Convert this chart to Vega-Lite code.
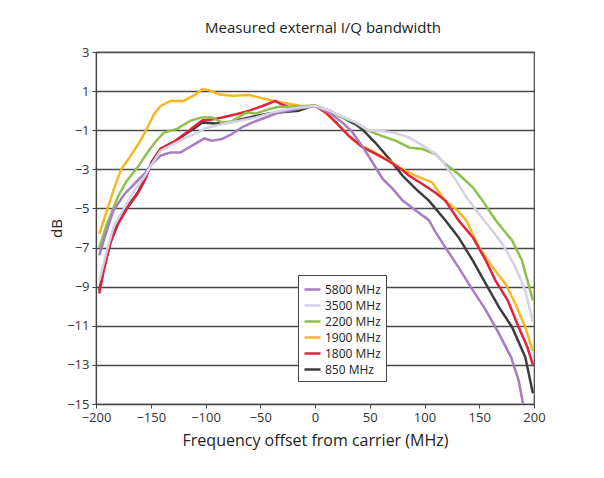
{
  "$schema": "https://vega.github.io/schema/vega-lite/v6.json",
  "autosize": {"type": "none"},
  "width": 438,
  "height": 352,
  "padding": {"left": 96, "top": 52, "right": 70, "bottom": 74},
  "background": "white",
  "config": {
    "font": "Open Sans",
    "view": {"stroke": "#444444", "strokeWidth": 1.2},
    "axis": {"labelFont": "Open Sans", "titleFont": "Open Sans", "labelColor": "#333333", "titleColor": "#222222", "titleFontWeight": "normal", "labelFlush": false}
  },
  "title": {"text": "Measured  external  I/Q  bandwidth", "fontSize": 15, "fontWeight": "normal", "font": "Open Sans", "color": "#222222", "offset": 10, "dx": 8},
  "datasets": {
    "curves": [
      {"s": "1900 MHz", "x": -197, "y": -6.3}, {"s": "1900 MHz", "x": -190, "y": -5.1}, {"s": "1900 MHz", "x": -183, "y": -3.9}, {"s": "1900 MHz", "x": -177, "y": -3.0}, {"s": "1900 MHz", "x": -170, "y": -2.45}, {"s": "1900 MHz", "x": -160, "y": -1.6}, {"s": "1900 MHz", "x": -153, "y": -0.86}, {"s": "1900 MHz", "x": -147, "y": -0.18}, {"s": "1900 MHz", "x": -141, "y": 0.24}, {"s": "1900 MHz", "x": -132, "y": 0.5}, {"s": "1900 MHz", "x": -120, "y": 0.5}, {"s": "1900 MHz", "x": -110, "y": 0.8}, {"s": "1900 MHz", "x": -103, "y": 1.1}, {"s": "1900 MHz", "x": -97, "y": 1.05}, {"s": "1900 MHz", "x": -88, "y": 0.84}, {"s": "1900 MHz", "x": -76, "y": 0.76}, {"s": "1900 MHz", "x": -60, "y": 0.8}, {"s": "1900 MHz", "x": -45, "y": 0.59}, {"s": "1900 MHz", "x": -36, "y": 0.47}, {"s": "1900 MHz", "x": -24, "y": 0.36}, {"s": "1900 MHz", "x": -12, "y": 0.24}, {"s": "1900 MHz", "x": 0, "y": 0.25}, {"s": "1900 MHz", "x": 7, "y": 0.0}, {"s": "1900 MHz", "x": 19, "y": -0.6}, {"s": "1900 MHz", "x": 31, "y": -1.29}, {"s": "1900 MHz", "x": 43, "y": -1.8}, {"s": "1900 MHz", "x": 55, "y": -2.14}, {"s": "1900 MHz", "x": 68, "y": -2.56}, {"s": "1900 MHz", "x": 80, "y": -3.0}, {"s": "1900 MHz", "x": 92, "y": -3.33}, {"s": "1900 MHz", "x": 107, "y": -3.67}, {"s": "1900 MHz", "x": 119, "y": -4.6}, {"s": "1900 MHz", "x": 130, "y": -5.1}, {"s": "1900 MHz", "x": 138, "y": -5.6}, {"s": "1900 MHz", "x": 150, "y": -7.0}, {"s": "1900 MHz", "x": 162, "y": -8.0}, {"s": "1900 MHz", "x": 174, "y": -8.86}, {"s": "1900 MHz", "x": 183, "y": -9.88}, {"s": "1900 MHz", "x": 192, "y": -11.07}, {"s": "1900 MHz", "x": 199, "y": -12.3},

      {"s": "1800 MHz", "x": -197, "y": -9.35}, {"s": "1800 MHz", "x": -193, "y": -8.2}, {"s": "1800 MHz", "x": -187, "y": -6.8}, {"s": "1800 MHz", "x": -180, "y": -5.8}, {"s": "1800 MHz", "x": -171, "y": -4.94}, {"s": "1800 MHz", "x": -162, "y": -4.25}, {"s": "1800 MHz", "x": -155, "y": -3.5}, {"s": "1800 MHz", "x": -149, "y": -2.65}, {"s": "1800 MHz", "x": -141, "y": -1.96}, {"s": "1800 MHz", "x": -129, "y": -1.6}, {"s": "1800 MHz", "x": -117, "y": -1.1}, {"s": "1800 MHz", "x": -110, "y": -0.8}, {"s": "1800 MHz", "x": -103, "y": -0.5}, {"s": "1800 MHz", "x": -94, "y": -0.45}, {"s": "1800 MHz", "x": -85, "y": -0.35}, {"s": "1800 MHz", "x": -72, "y": -0.18}, {"s": "1800 MHz", "x": -60, "y": 0.0}, {"s": "1800 MHz", "x": -48, "y": 0.24}, {"s": "1800 MHz", "x": -36, "y": 0.5}, {"s": "1800 MHz", "x": -31, "y": 0.33}, {"s": "1800 MHz", "x": -24, "y": 0.19}, {"s": "1800 MHz", "x": -12, "y": 0.2}, {"s": "1800 MHz", "x": 0, "y": 0.25}, {"s": "1800 MHz", "x": 10, "y": -0.1}, {"s": "1800 MHz", "x": 20, "y": -0.65}, {"s": "1800 MHz", "x": 31, "y": -1.3}, {"s": "1800 MHz", "x": 43, "y": -1.85}, {"s": "1800 MHz", "x": 55, "y": -2.2}, {"s": "1800 MHz", "x": 68, "y": -2.6}, {"s": "1800 MHz", "x": 80, "y": -3.05}, {"s": "1800 MHz", "x": 86, "y": -3.33}, {"s": "1800 MHz", "x": 98, "y": -3.75}, {"s": "1800 MHz", "x": 110, "y": -4.2}, {"s": "1800 MHz", "x": 119, "y": -4.6}, {"s": "1800 MHz", "x": 131, "y": -5.6}, {"s": "1800 MHz", "x": 144, "y": -6.47}, {"s": "1800 MHz", "x": 156, "y": -7.66}, {"s": "1800 MHz", "x": 165, "y": -8.7}, {"s": "1800 MHz", "x": 176, "y": -9.7}, {"s": "1800 MHz", "x": 186, "y": -11.07}, {"s": "1800 MHz", "x": 194, "y": -12.1}, {"s": "1800 MHz", "x": 199, "y": -13.0},

      {"s": "2200 MHz", "x": -197, "y": -7.0}, {"s": "2200 MHz", "x": -190, "y": -5.8}, {"s": "2200 MHz", "x": -180, "y": -4.4}, {"s": "2200 MHz", "x": -172, "y": -3.6}, {"s": "2200 MHz", "x": -162, "y": -2.9}, {"s": "2200 MHz", "x": -153, "y": -2.14}, {"s": "2200 MHz", "x": -145, "y": -1.54}, {"s": "2200 MHz", "x": -138, "y": -1.12}, {"s": "2200 MHz", "x": -126, "y": -0.93}, {"s": "2200 MHz", "x": -114, "y": -0.52}, {"s": "2200 MHz", "x": -104, "y": -0.35}, {"s": "2200 MHz", "x": -94, "y": -0.35}, {"s": "2200 MHz", "x": -85, "y": -0.6}, {"s": "2200 MHz", "x": -76, "y": -0.55}, {"s": "2200 MHz", "x": -63, "y": -0.1}, {"s": "2200 MHz", "x": -54, "y": -0.15}, {"s": "2200 MHz", "x": -42, "y": 0.08}, {"s": "2200 MHz", "x": -33, "y": 0.2}, {"s": "2200 MHz", "x": -24, "y": 0.19}, {"s": "2200 MHz", "x": -12, "y": 0.22}, {"s": "2200 MHz", "x": 0, "y": 0.25}, {"s": "2200 MHz", "x": 13, "y": 0.0}, {"s": "2200 MHz", "x": 25, "y": -0.35}, {"s": "2200 MHz", "x": 37, "y": -0.6}, {"s": "2200 MHz", "x": 49, "y": -1.03}, {"s": "2200 MHz", "x": 61, "y": -1.29}, {"s": "2200 MHz", "x": 74, "y": -1.54}, {"s": "2200 MHz", "x": 86, "y": -1.88}, {"s": "2200 MHz", "x": 98, "y": -1.96}, {"s": "2200 MHz", "x": 110, "y": -2.22}, {"s": "2200 MHz", "x": 119, "y": -2.73}, {"s": "2200 MHz", "x": 131, "y": -3.24}, {"s": "2200 MHz", "x": 144, "y": -3.92}, {"s": "2200 MHz", "x": 153, "y": -4.6}, {"s": "2200 MHz", "x": 165, "y": -5.6}, {"s": "2200 MHz", "x": 180, "y": -6.64}, {"s": "2200 MHz", "x": 189, "y": -7.66}, {"s": "2200 MHz", "x": 199, "y": -9.7},

      {"s": "850 MHz", "x": -197, "y": -9.2}, {"s": "850 MHz", "x": -193, "y": -8.1}, {"s": "850 MHz", "x": -187, "y": -6.75}, {"s": "850 MHz", "x": -180, "y": -5.75}, {"s": "850 MHz", "x": -171, "y": -4.9}, {"s": "850 MHz", "x": -162, "y": -4.2}, {"s": "850 MHz", "x": -155, "y": -3.45}, {"s": "850 MHz", "x": -149, "y": -2.6}, {"s": "850 MHz", "x": -141, "y": -1.95}, {"s": "850 MHz", "x": -129, "y": -1.6}, {"s": "850 MHz", "x": -117, "y": -1.15}, {"s": "850 MHz", "x": -110, "y": -0.9}, {"s": "850 MHz", "x": -103, "y": -0.6}, {"s": "850 MHz", "x": -91, "y": -0.66}, {"s": "850 MHz", "x": -79, "y": -0.6}, {"s": "850 MHz", "x": -63, "y": -0.38}, {"s": "850 MHz", "x": -54, "y": -0.27}, {"s": "850 MHz", "x": -42, "y": -0.15}, {"s": "850 MHz", "x": -33, "y": -0.1}, {"s": "850 MHz", "x": -15, "y": 0.0}, {"s": "850 MHz", "x": -3, "y": 0.24}, {"s": "850 MHz", "x": 0, "y": 0.25}, {"s": "850 MHz", "x": 13, "y": 0.0}, {"s": "850 MHz", "x": 25, "y": -0.35}, {"s": "850 MHz", "x": 37, "y": -0.7}, {"s": "850 MHz", "x": 43, "y": -0.95}, {"s": "850 MHz", "x": 55, "y": -1.63}, {"s": "850 MHz", "x": 68, "y": -2.48}, {"s": "850 MHz", "x": 80, "y": -3.33}, {"s": "850 MHz", "x": 92, "y": -4.0}, {"s": "850 MHz", "x": 104, "y": -4.6}, {"s": "850 MHz", "x": 119, "y": -5.6}, {"s": "850 MHz", "x": 131, "y": -6.47}, {"s": "850 MHz", "x": 144, "y": -7.66}, {"s": "850 MHz", "x": 156, "y": -8.86}, {"s": "850 MHz", "x": 168, "y": -10.05}, {"s": "850 MHz", "x": 180, "y": -11.07}, {"s": "850 MHz", "x": 192, "y": -12.6}, {"s": "850 MHz", "x": 199, "y": -14.45},

      {"s": "5800 MHz", "x": -197, "y": -7.4}, {"s": "5800 MHz", "x": -190, "y": -6.1}, {"s": "5800 MHz", "x": -184, "y": -5.1}, {"s": "5800 MHz", "x": -174, "y": -4.26}, {"s": "5800 MHz", "x": -165, "y": -3.75}, {"s": "5800 MHz", "x": -156, "y": -3.24}, {"s": "5800 MHz", "x": -149, "y": -2.73}, {"s": "5800 MHz", "x": -141, "y": -2.3}, {"s": "5800 MHz", "x": -132, "y": -2.14}, {"s": "5800 MHz", "x": -123, "y": -2.14}, {"s": "5800 MHz", "x": -110, "y": -1.71}, {"s": "5800 MHz", "x": -101, "y": -1.42}, {"s": "5800 MHz", "x": -94, "y": -1.54}, {"s": "5800 MHz", "x": -85, "y": -1.45}, {"s": "5800 MHz", "x": -76, "y": -1.2}, {"s": "5800 MHz", "x": -67, "y": -0.86}, {"s": "5800 MHz", "x": -57, "y": -0.6}, {"s": "5800 MHz", "x": -45, "y": -0.35}, {"s": "5800 MHz", "x": -33, "y": -0.1}, {"s": "5800 MHz", "x": -24, "y": 0.0}, {"s": "5800 MHz", "x": -12, "y": 0.14}, {"s": "5800 MHz", "x": 0, "y": 0.25}, {"s": "5800 MHz", "x": 13, "y": -0.1}, {"s": "5800 MHz", "x": 25, "y": -0.6}, {"s": "5800 MHz", "x": 34, "y": -1.1}, {"s": "5800 MHz", "x": 43, "y": -1.8}, {"s": "5800 MHz", "x": 52, "y": -2.6}, {"s": "5800 MHz", "x": 62, "y": -3.5}, {"s": "5800 MHz", "x": 71, "y": -4.0}, {"s": "5800 MHz", "x": 80, "y": -4.6}, {"s": "5800 MHz", "x": 92, "y": -5.1}, {"s": "5800 MHz", "x": 104, "y": -5.6}, {"s": "5800 MHz", "x": 110, "y": -6.2}, {"s": "5800 MHz", "x": 118, "y": -6.9}, {"s": "5800 MHz", "x": 131, "y": -8.0}, {"s": "5800 MHz", "x": 142, "y": -9.0}, {"s": "5800 MHz", "x": 156, "y": -10.2}, {"s": "5800 MHz", "x": 168, "y": -11.4}, {"s": "5800 MHz", "x": 179, "y": -12.6}, {"s": "5800 MHz", "x": 186, "y": -13.8}, {"s": "5800 MHz", "x": 190, "y": -15.0},

      {"s": "3500 MHz", "x": -197, "y": -8.7}, {"s": "3500 MHz", "x": -190, "y": -7.15}, {"s": "3500 MHz", "x": -184, "y": -5.96}, {"s": "3500 MHz", "x": -174, "y": -4.94}, {"s": "3500 MHz", "x": -165, "y": -4.1}, {"s": "3500 MHz", "x": -156, "y": -3.4}, {"s": "3500 MHz", "x": -149, "y": -2.73}, {"s": "3500 MHz", "x": -141, "y": -2.05}, {"s": "3500 MHz", "x": -129, "y": -1.7}, {"s": "3500 MHz", "x": -117, "y": -1.37}, {"s": "3500 MHz", "x": -104, "y": -1.03}, {"s": "3500 MHz", "x": -100, "y": -0.9}, {"s": "3500 MHz", "x": -85, "y": -0.69}, {"s": "3500 MHz", "x": -69, "y": -0.52}, {"s": "3500 MHz", "x": -54, "y": -0.35}, {"s": "3500 MHz", "x": -39, "y": -0.1}, {"s": "3500 MHz", "x": -24, "y": 0.08}, {"s": "3500 MHz", "x": -9, "y": 0.19}, {"s": "3500 MHz", "x": 0, "y": 0.25}, {"s": "3500 MHz", "x": 13, "y": 0.0}, {"s": "3500 MHz", "x": 25, "y": -0.3}, {"s": "3500 MHz", "x": 37, "y": -0.6}, {"s": "3500 MHz", "x": 49, "y": -1.0}, {"s": "3500 MHz", "x": 62, "y": -1.05}, {"s": "3500 MHz", "x": 70, "y": -1.1}, {"s": "3500 MHz", "x": 86, "y": -1.37}, {"s": "3500 MHz", "x": 101, "y": -1.88}, {"s": "3500 MHz", "x": 110, "y": -2.2}, {"s": "3500 MHz", "x": 116, "y": -2.56}, {"s": "3500 MHz", "x": 128, "y": -3.5}, {"s": "3500 MHz", "x": 138, "y": -4.4}, {"s": "3500 MHz", "x": 150, "y": -5.3}, {"s": "3500 MHz", "x": 160, "y": -6.0}, {"s": "3500 MHz", "x": 171, "y": -6.8}, {"s": "3500 MHz", "x": 183, "y": -8.0}, {"s": "3500 MHz", "x": 192, "y": -9.2}, {"s": "3500 MHz", "x": 199, "y": -10.8}
    ]
  },
  "data": {"name": "curves"},
  "encoding": {
    "x": {
      "field": "x", "type": "quantitative",
      "scale": {"domain": [-200, 200], "nice": false, "padding": 0},
      "axis": {
        "title": "Frequency offset from carrier (MHz)",
        "values": [-200, -150, -100, -50, 0, 50, 100, 150, 200],
        "grid": false, "labelFontSize": 13, "titleFontSize": 16, "titlePadding": 8,
        "tickSize": 4, "tickColor": "#444444", "domainColor": "#444444", "domainWidth": 1.2, "labelPadding": 3
      }
    },
    "y": {
      "field": "y", "type": "quantitative",
      "scale": {"domain": [-15, 3], "nice": false, "zero": false},
      "axis": {
        "title": "dB",
        "values": [-15, -13, -11, -9, -7, -5, -3, -1, 1, 3],
        "grid": true, "gridColor": "#4a4a4a", "gridWidth": 1.4, "gridOpacity": 1,
        "labelFontSize": 13, "titleFontSize": 15, "titlePadding": 2,
        "tickSize": 4, "tickColor": "#444444", "domainColor": "#444444", "domainWidth": 1.2, "labelPadding": 3
      }
    },
    "color": {
      "field": "s", "type": "nominal",
      "scale": {
        "domain": ["5800 MHz", "3500 MHz", "2200 MHz", "1900 MHz", "1800 MHz", "850 MHz"],
        "range": ["#a77dc2", "#d4d1e8", "#8fc04c", "#f5b820", "#e0243c", "#3c3c3c"]
      },
      "legend": {
        "title": null, "orient": "none", "legendX": 202, "legendY": 223,
        "symbolType": "stroke", "symbolStrokeWidth": 2.5, "symbolSize": 256,
        "labelFontSize": 12, "labelFont": "Open Sans", "labelColor": "#222222",
        "rowPadding": 0, "padding": 5, "fillColor": "white", "strokeColor": "#444444",
        "labelOffset": 3
      }
    }
  },
  "layer": [
    {
      "transform": [{"filter": "datum.s === '850 MHz'"}],
      "mark": {"type": "line", "strokeWidth": 2.5, "clip": true}
    },
    {
      "transform": [{"filter": "datum.s !== '850 MHz'"}],
      "mark": {"type": "line", "strokeWidth": 2.5, "clip": true}
    }
  ]
}
